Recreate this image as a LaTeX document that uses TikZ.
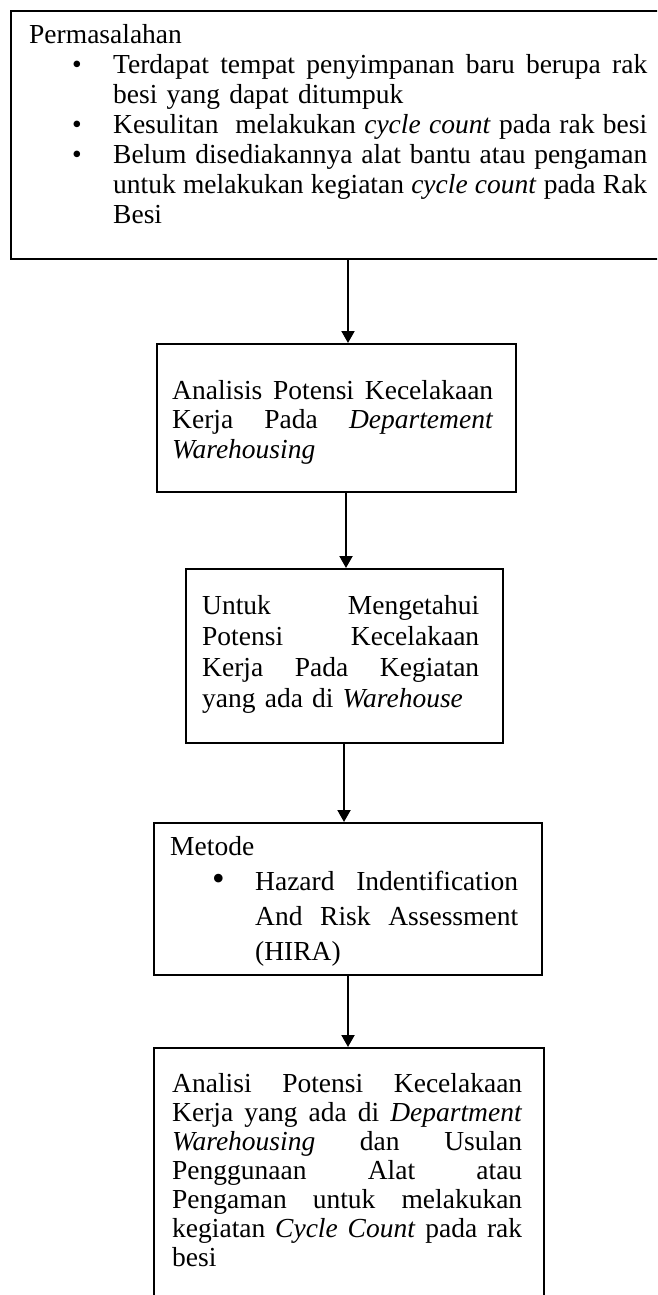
\documentclass[tikz,border=0pt]{standalone}
\usepackage{fontspec}
\setmainfont{Liberation Serif}
\usetikzlibrary{arrows.meta}

% one justified line of a box
\newcommand{\jl}[2]{\leavevmode\hbox to #1{\spaceskip=0.25em plus 1fil\xspaceskip=0.25em plus 1fil\relax #2}}

\tikzset{
  frame/.style={draw, line width=2pt, inner sep=0pt, anchor=north west},
  txt/.style={inner sep=0pt, anchor=base west, align=left},
  flow/.style={line width=2pt, ->},
}

\begin{document}
\begin{tikzpicture}[x=1pt, y=-1pt, >={Triangle[length=12pt,width=13pt]}]
\useasboundingbox (0,0) rectangle (657,1295);
\clip (0,0) rectangle (657,1295);

% frames
\node[frame, minimum width=700pt, minimum height=248pt] (f1) at (10,10) {};
\node[frame, minimum width=359pt, minimum height=148pt] (f2) at (156,343) {};
\node[frame, minimum width=317pt, minimum height=174pt] (f3) at (185,568) {};
\node[frame, minimum width=388pt, minimum height=152pt] (f4) at (153,822) {};
\node[frame, minimum width=390pt, minimum height=300pt] (f5) at (153,1047) {};

% texts
\node[txt, text width=625pt, font=\fontsize{27.5}{30}\selectfont] (t1) at (29,44) {%
Permasalahan\\
\hspace*{43pt}\makebox[41pt][l]{\textbullet}\jl{534pt}{Terdapat tempat penyimpanan baru berupa rak}\\
\hspace*{84pt}besi yang dapat ditumpuk\\
\hspace*{43pt}\makebox[41pt][l]{\textbullet}\jl{534pt}{Kesulitan~ melakukan \textit{cycle count} pada rak besi}\\
\hspace*{43pt}\makebox[41pt][l]{\textbullet}\jl{534pt}{Belum disediakannya alat bantu atau pengaman}\\
\hspace*{84pt}\jl{534pt}{untuk melakukan kegiatan \textit{cycle count} pada Rak}\\
\hspace*{84pt}Besi};

\node[txt, text width=325pt, font=\fontsize{27.5}{29.5}\selectfont] (t2) at (172,399) {%
\jl{321pt}{Analisis Potensi Kecelakaan}\\
\jl{321pt}{Kerja Pada \textit{Departement}}\\
\textit{Warehousing}};

\node[txt, text width=280pt, font=\fontsize{27.5}{31}\selectfont] (t3) at (202,614) {%
\jl{277pt}{Untuk Mengetahui}\\
\jl{277pt}{Potensi Kecelakaan}\\
\jl{277pt}{Kerja Pada Kegiatan}\\
yang ada di \textit{Warehouse}};

\node[txt, text width=355pt, font=\fontsize{27.5}{35}\selectfont] (t4) at (170,855) {%
Metode\\
\hspace*{42pt}\makebox[43pt][l]{\fontsize{36}{36}\selectfont\textbullet}\jl{263pt}{Hazard Indentification}\\
\hspace*{85pt}\jl{263pt}{And Risk Assessment}\\
\hspace*{85pt}(HIRA)};

\node[txt, text width=355pt, font=\fontsize{27.5}{29}\selectfont] (t5) at (172,1092) {%
\jl{350pt}{Analisi Potensi Kecelakaan}\\
\jl{350pt}{Kerja yang ada di \textit{Department}}\\
\jl{350pt}{\textit{Warehousing} dan Usulan}\\
\jl{350pt}{Penggunaan Alat atau}\\
\jl{350pt}{Pengaman untuk melakukan}\\
\jl{350pt}{kegiatan \textit{Cycle Count} pada rak}\\
besi};

% arrows
\coordinate (a1) at (348,0);
\coordinate (a2) at (346,0);
\coordinate (a3) at (344,0);
\coordinate (a4) at (348,0);
\draw[flow] (f1.south -| a1) -- (f2.north -| a1);
\draw[flow] (f2.south -| a2) -- (f3.north -| a2);
\draw[flow] (f3.south -| a3) -- (f4.north -| a3);
\draw[flow] (f4.south -| a4) -- (f5.north -| a4);
\end{tikzpicture}
\end{document}
